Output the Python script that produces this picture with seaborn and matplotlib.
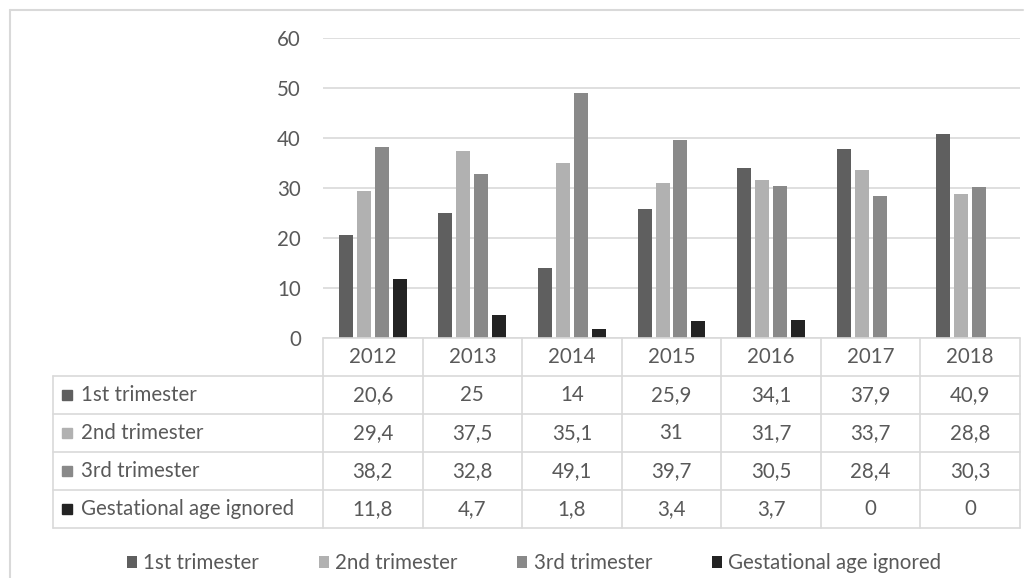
import pandas as pd
import seaborn as sns
import matplotlib.pyplot as plt
from matplotlib.lines import Line2D

# data
years = ['2012', '2013', '2014', '2015', '2016', '2017', '2018']
series = ['1st trimester', '2nd trimester', '3rd trimester', 'Gestational age ignored']
first_tri = [20.6, 25, 14, 25.9, 34.1, 37.9, 40.9]
second_tri = [29.4, 37.5, 35.1, 31, 31.7, 33.7, 28.8]
third_tri = [38.2, 32.8, 49.1, 39.7, 30.5, 28.4, 30.3]
ignored = [11.8, 4.7, 1.8, 3.4, 3.7, 0, 0]
colors = ['#5f5f5f', '#b1b1b1', '#898989', '#232323']

values = [first_tri, second_tri, third_tri, ignored]
df = pd.DataFrame({
    'year': years * 4,
    'series': [s for s in series for _ in years],
    'value': first_tri + second_tri + third_tri + ignored,
})

sns.set_theme(style="white")
plt.rcParams['font.family'] = ['Lato', 'DejaVu Sans']
txt = '#595959'
grid = '#d9d9d9'
fs = 14.8

W, H = 1033, 578
fig = plt.figure(figsize=(W / 100, H / 100), dpi=100)
# axes placed in pixel terms: x 323..1020, y 38..338
ax = fig.add_axes([323 / W, (H - 338) / H, 697 / W, 300 / H])

sns.barplot(data=df, x='year', y='value', hue='series', palette=colors,
            width=0.72, gap=0.22, linewidth=0, ax=ax, legend=True)
ax.set_xlim(-0.5, 6.5)
ax.set_ylim(0, 60)
ax.set_yticks(range(0, 61, 10))
ax.set_xticks([])
ax.set_xlabel('')
ax.set_ylabel('')
ax.yaxis.grid(True, color=grid, linewidth=1.2)
ax.set_axisbelow(True)
for s in ax.spines.values():
    s.set_visible(False)
ax.tick_params(axis='y', length=0, pad=16, labelsize=fs, labelcolor=txt)

handles, labels = ax.get_legend_handles_labels()
ax.get_legend().remove()

# data table under the axes (axes-fraction coordinates)
row_h = 38 / 300
col_w = 1 / 7
label_left = (53 - 323) / 697
n_rows = 5
bottom = -row_h * n_rows
lk = dict(color=grid, linewidth=1.2, transform=ax.transAxes, clip_on=False)
# horizontal lines
ax.plot([0, 1], [0, 0], **lk)
for r in range(1, n_rows + 1):
    ax.plot([label_left, 1], [-row_h * r, -row_h * r], **lk)
# vertical lines
for c in range(8):
    ax.plot([c * col_w, c * col_w], [0, bottom], **lk)
ax.plot([label_left, label_left], [-row_h, bottom], **lk)

for c, y in enumerate(years):
    ax.text((c + 0.5) * col_w, -row_h / 2, y, transform=ax.transAxes,
            ha='center', va='center', fontsize=fs, color=txt)
for r, (name, vals, col) in enumerate(zip(series, values, colors)):
    yc = -row_h * (r + 1.5)
    ax.plot([(67 - 323) / 697], [yc], marker='s', markersize=7.5, color=col,
            transform=ax.transAxes, clip_on=False, linestyle='none')
    ax.text((81 - 323) / 697, yc, name, transform=ax.transAxes,
            ha='left', va='center', fontsize=fs, color=txt)
    for c, v in enumerate(vals):
        ax.text((c + 0.5) * col_w, yc, f'{v:g}'.replace('.', ','),
                transform=ax.transAxes, ha='center', va='center',
                fontsize=fs, color=txt)

# legend at the bottom
leg = fig.legend(handles, labels, loc='center', bbox_to_anchor=(534 / W, (H - 563) / H),
                 ncol=4, frameon=False, fontsize=fs, handlelength=0.5, handleheight=0.5,
                 handletextpad=0.3, columnspacing=2.9, labelcolor=txt)

# outer chart frame (top and left edges)
fig.add_artist(Line2D([10 / W, 1023 / W], [(H - 10) / H, (H - 10) / H], color=grid, linewidth=1.5))
fig.add_artist(Line2D([10 / W, 10 / W], [0, (H - 10) / H], color=grid, linewidth=1.5))

plt.savefig('out.png', dpi=100, facecolor='white')
